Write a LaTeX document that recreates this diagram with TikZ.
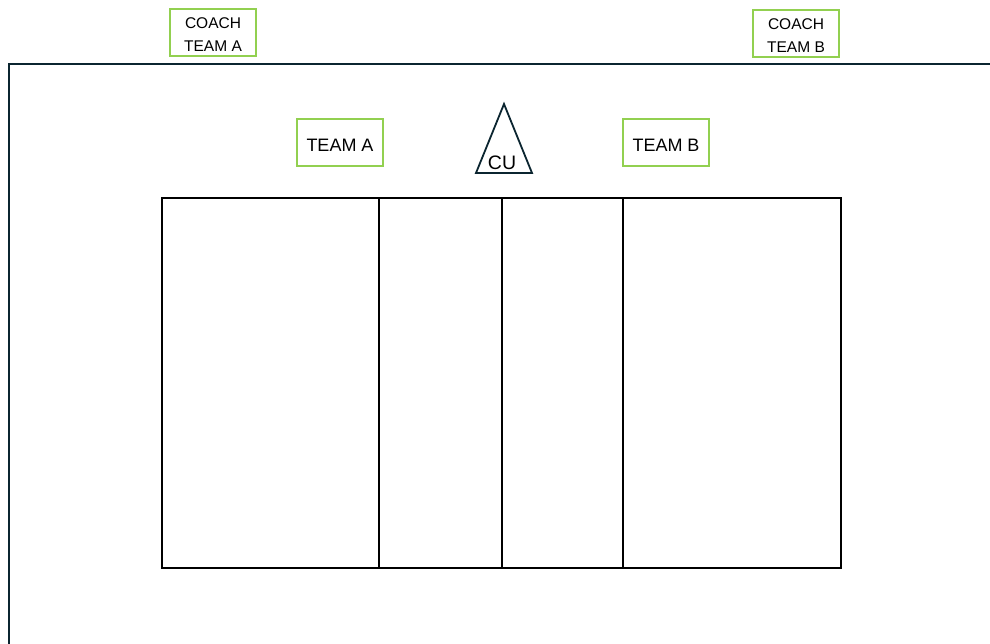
\documentclass[tikz,border=0pt]{standalone}
\usepackage{fontspec}
\setmainfont{Liberation Sans}
\definecolor{frame}{HTML}{0B2530}
\definecolor{grn}{HTML}{92D050}
\tikzset{
  lbl/.style={draw=grn, line width=2pt, minimum width=86pt, minimum height=47pt, inner sep=0pt},
  txt/.style={inner sep=0pt, align=center, text=black},
  court/.style={draw=black, line width=2pt},
  fr/.style={draw=frame, line width=2pt}
}
\begin{document}
\begin{tikzpicture}[x=1pt,y=-1pt]
\useasboundingbox (0,0) rectangle (990,644);
% frame
\coordinate (f1) at (9,644);
\coordinate (f2) at (9,64);
\coordinate (f3) at (990,64);
\draw[fr] (f1) -- (f2) -- (f3);
% court
\draw[court] (162,198) rectangle (841,568);
\draw[court] (379,198) -- (379,568);
\draw[court] (502,198) -- (502,568);
\draw[court] (623,198) -- (623,568);
% labels
\node[lbl] (ca) at (213,32.5) {};
\node[txt, font=\fontsize{15.5}{23}\selectfont] (cat) at (213,34.5) {COACH\\TEAM A};
\node[lbl] (cb) at (796,33.5) {};
\node[txt, font=\fontsize{15.5}{23}\selectfont] (cbt) at (796,35.5) {COACH\\TEAM B};
\node[lbl] (ta) at (340,142.5) {};
\node[txt, font=\fontsize{18}{22}\selectfont] (tat) at (340,145.5) {TEAM A};
\node[lbl] (tb) at (666,142.5) {};
\node[txt, font=\fontsize{18}{22}\selectfont] (tbt) at (666,145.5) {TEAM B};
% triangle
\coordinate (t1) at (504,104);
\coordinate (t2) at (532,173);
\coordinate (t3) at (476,173);
\draw[draw=frame, line width=1.8pt, line join=miter] (t1) -- (t2) -- (t3) -- cycle;
\node[font=\fontsize{19.5}{22}\selectfont, inner sep=0pt] (cu) at (502,163) {CU};
\end{tikzpicture}
\end{document}
